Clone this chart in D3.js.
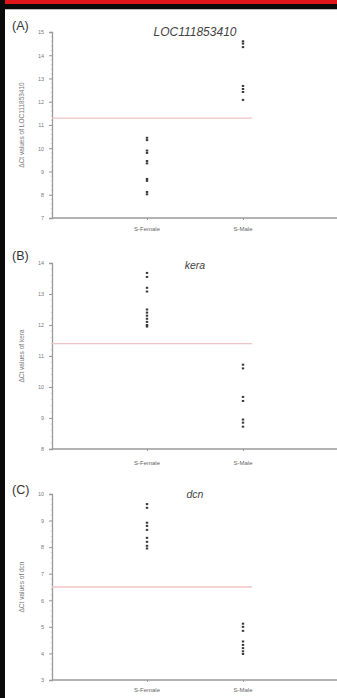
<!DOCTYPE html>
<html>
<head>
<meta charset="utf-8">
<script src="https://cdn.jsdelivr.net/npm/d3@7/dist/d3.min.js"></script>
<style>
  html, body { margin: 0; padding: 0; background: #fff; }
  svg { display: block; }
  text { font-family: "Liberation Sans", Arial, sans-serif; }
</style>
</head>
<body>
<div id="chart"></div>
<script>
// Groups on the x axis
const groups = ["S-Female", "S-Male"];

// Panel A: LOC111853410
const locFemale = [10.45, 10.35, 9.9, 9.8, 9.45, 9.35, 8.68, 8.6, 8.12, 8.02];
const locMale = [14.6, 14.5, 14.35, 12.68, 12.55, 12.42, 12.08];
const locTicks = [7, 8, 9, 10, 11, 12, 13, 14, 15];
const locCutoff = 11.3;

// Panel B: kera
const keraFemale = [13.68, 13.55, 13.2, 13.08, 12.5, 12.4, 12.3, 12.2, 12.1, 12.0, 11.95];
const keraMale = [10.72, 10.6, 9.68, 9.55, 8.95, 8.85, 8.72];
const keraTicks = [8, 9, 10, 11, 12, 13, 14];
const keraCutoff = 11.4;

// Panel C: dcn
const dcnFemale = [9.62, 9.48, 8.92, 8.8, 8.65, 8.35, 8.2, 8.05, 7.95];
const dcnMale = [5.12, 5.0, 4.85, 4.45, 4.32, 4.2, 4.08, 3.98];
const dcnTicks = [3, 4, 5, 6, 7, 8, 9, 10];
const dcnCutoff = 6.5;

const panels = [
  { tag: "(A)", title: "LOC111853410", ylabel: "ΔCt values of LOC111853410",
    female: locFemale, male: locMale, ticks: locTicks, cutoff: locCutoff,
    top: 32, bottom: 218, tagY: 26, titleY: 36, catY: 231 },
  { tag: "(B)", title: "kera", ylabel: "ΔCt values of kera",
    female: keraFemale, male: keraMale, ticks: keraTicks, cutoff: keraCutoff,
    top: 263, bottom: 449, tagY: 256, titleY: 269, catY: 465 },
  { tag: "(C)", title: "dcn", ylabel: "ΔCt values of dcn",
    female: dcnFemale, male: dcnMale, ticks: dcnTicks, cutoff: dcnCutoff,
    top: 494, bottom: 680, tagY: 490, titleY: 498, catY: 692 }
];

const W = 337, H = 698;
const svg = d3.select("#chart").append("svg").attr("width", W).attr("height", H);

// Frame bands
svg.append("rect").attr("x", 0).attr("y", 0).attr("width", W).attr("height", 4).attr("fill", "#e0141b");
svg.append("rect").attr("x", 0).attr("y", 4).attr("width", W).attr("height", 5).attr("fill", "#0a0a0a");
svg.append("rect").attr("x", 0).attr("y", 9).attr("width", W).attr("height", 1).attr("fill", "#bbbbbb");
svg.append("rect").attr("x", 0).attr("y", 0).attr("width", 5).attr("height", H).attr("fill", "#0a0a0a");

const axisX = 52;
const x = d3.scalePoint().domain(groups).range([147, 243]);
const axisColor = "#9a9a9a";

panels.forEach(p => {
  const y = d3.scaleLinear()
    .domain([p.ticks[0], p.ticks[p.ticks.length - 1]])
    .range([p.bottom, p.top]);
  const g = svg.append("g");

  // minor ticks
  const minor = [];
  for (let v = p.ticks[0]; v <= p.ticks[p.ticks.length - 1] + 1e-9; v += 0.2) minor.push(+v.toFixed(1));
  g.selectAll("line.minor").data(minor).join("line")
    .attr("x1", axisX - 1.5).attr("x2", axisX)
    .attr("y1", d => y(d)).attr("y2", d => y(d))
    .attr("stroke", "#c8c8c8").attr("stroke-width", 0.6);

  // y axis
  const ya = g.append("g").attr("transform", `translate(${axisX},0)`)
    .call(d3.axisLeft(y).tickValues(p.ticks).tickSize(3).tickPadding(5).tickFormat(d3.format("d")));
  ya.select(".domain").attr("stroke", axisColor).attr("stroke-width", 1.3);
  ya.selectAll(".tick line").attr("stroke", axisColor);
  ya.selectAll(".tick text").attr("fill", "#7a7a7a").attr("font-size", 5.5)
    .attr("font-family", "Liberation Sans, Arial, sans-serif");

  // x axis
  const xa = g.append("g").attr("transform", `translate(0,${p.bottom})`)
    .call(d3.axisBottom(x).tickSize(2).tickFormat(""));
  xa.select(".domain").remove();
  xa.selectAll(".tick line").attr("stroke", axisColor);
  g.append("line").attr("x1", axisX).attr("x2", W).attr("y1", p.bottom).attr("y2", p.bottom)
    .attr("stroke", axisColor).attr("stroke-width", 1.3);
  g.selectAll("text.cat").data(groups).join("text")
    .attr("x", d => x(d)).attr("y", p.catY).attr("text-anchor", "middle")
    .attr("font-size", 6).attr("fill", "#666").text(d => d);

  // cutoff line
  g.append("line").attr("x1", axisX).attr("x2", 252)
    .attr("y1", y(p.cutoff)).attr("y2", y(p.cutoff))
    .attr("stroke", "#eec4c4").attr("stroke-width", 1.3);

  // replicate markers
  const pts = p.female.map(v => ({ g: "S-Female", v })).concat(p.male.map(v => ({ g: "S-Male", v })));
  g.selectAll("rect.pt").data(pts).join("rect")
    .attr("x", d => x(d.g) - 1.2).attr("y", d => y(d.v) - 1)
    .attr("width", 2.4).attr("height", 2).attr("fill", "#3a3a3a");

  // panel tag, title, y label
  g.append("text").attr("x", 12).attr("y", p.tagY + 4).attr("font-size", 12.5).attr("fill", "#333").text(p.tag);
  g.append("text").attr("x", 195).attr("y", p.titleY).attr("text-anchor", "middle")
    .attr("font-size", p.title.length > 5 ? 12 : 10.5).attr("font-style", "italic").attr("fill", "#444").text(p.title);
  const my = (p.top + p.bottom) / 2;
  g.append("text").attr("transform", `translate(24,${my}) rotate(-90)`)
    .attr("text-anchor", "middle").attr("font-size", 6.5).attr("fill", "#777").text(p.ylabel);
});
</script>
</body>
</html>
